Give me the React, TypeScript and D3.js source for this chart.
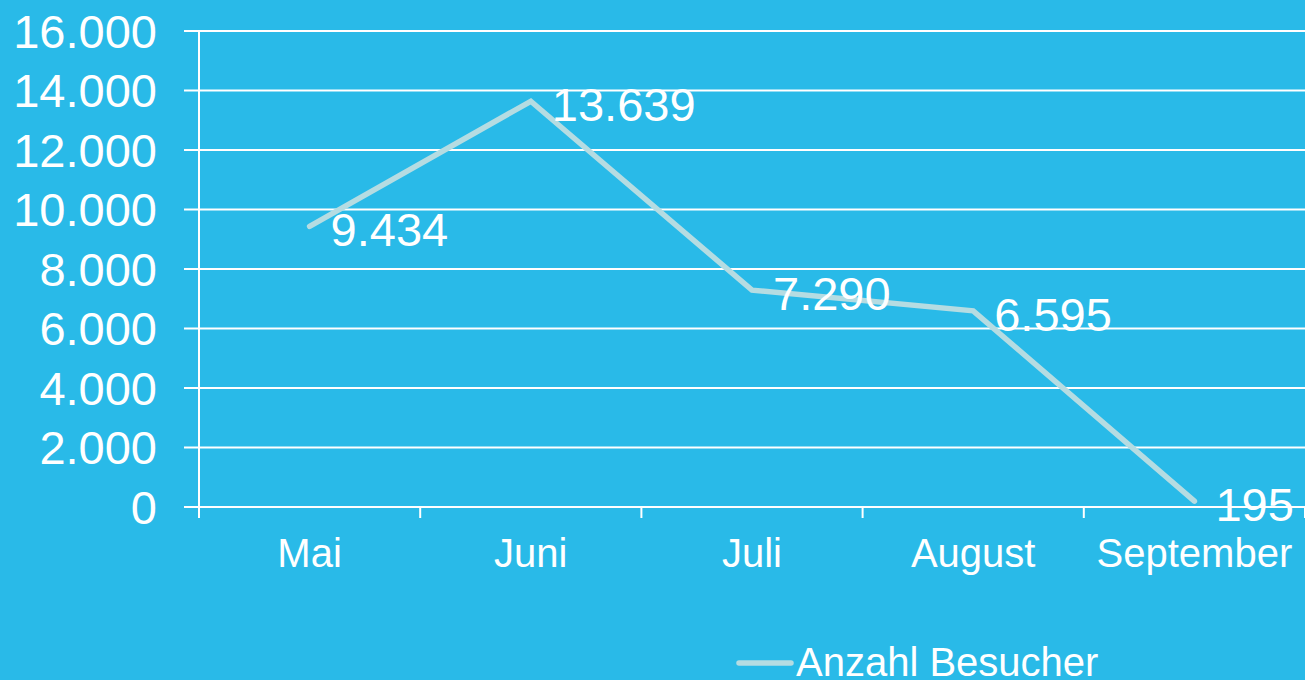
import React from "react";
import * as d3 from "d3";

const categories = ["Mai", "Juni", "Juli", "August", "September"];
const visitors = [9434, 13639, 7290, 6595, 195];
const yTicks = [0, 2000, 4000, 6000, 8000, 10000, 12000, 14000, 16000];
const seriesName = "Anzahl Besucher";

const W = 1305;
const H = 680;
const BG = "#29BAE8";
const LINE = "#B5DCE2";
const FONT = "'Liberation Sans', Arial, sans-serif";

const fmt = (v: number) => {
  const s = String(v);
  return s.replace(/\B(?=(\d{3})+(?!\d))/g, ".");
};

export default function App() {
  const x = d3.scaleBand<string>().domain(categories).range([199, 1305]);
  const y = d3.scaleLinear().domain([0, 16000]).range([507, 31]);
  const cx = (c: string) => (x(c) ?? 0) + x.bandwidth() / 2;
  const line = d3
    .line<number>()
    .x((_, i) => cx(categories[i]))
    .y((d) => y(d));
  const xTickPos = categories.map((c) => x(c) ?? 0).concat([1305]);

  return (
    <svg
      width={W}
      height={H}
      style={{ position: "fixed", left: 0, top: 0, display: "block" }}
      fontFamily={FONT}
    >
      <rect x={0} y={0} width={W} height={H} fill={BG} />
      {yTicks.map((t) => (
        <g key={t}>
          <line x1={184} x2={1305} y1={y(t)} y2={y(t)} stroke="#fff" strokeWidth={2} />
          <text
            x={157}
            y={y(t)}
            dy="0.36em"
            textAnchor="end"
            fill="#fff"
            fontSize={47}
          >
            {fmt(t)}
          </text>
        </g>
      ))}
      <line x1={199} x2={199} y1={y(16000)} y2={518} stroke="#fff" strokeWidth={2} />
      {xTickPos.map((p, i) => (
        <line key={i} x1={p} x2={p} y1={y(0)} y2={518} stroke="#fff" strokeWidth={2} />
      ))}
      {categories.map((c) => (
        <text key={c} x={cx(c)} y={567} textAnchor="middle" fill="#fff" fontSize={40}>
          {c}
        </text>
      ))}
      <path
        d={line(visitors) ?? ""}
        fill="none"
        stroke={LINE}
        strokeWidth={5.5}
        strokeLinecap="round"
        strokeLinejoin="miter"
      />
      {visitors.map((v, i) => (
        <text
          key={i}
          x={cx(categories[i]) + 21}
          y={y(v) + 3}
          dy="0.36em"
          fill="#fff"
          fontSize={47}
        >
          {fmt(v)}
        </text>
      ))}
      <line x1={739} x2={791} y1={663} y2={663} stroke={LINE} strokeWidth={5.5} strokeLinecap="round" />
      <text x={796} y={676} fill="#fff" fontSize={40}>
        {seriesName}
      </text>
    </svg>
  );
}
